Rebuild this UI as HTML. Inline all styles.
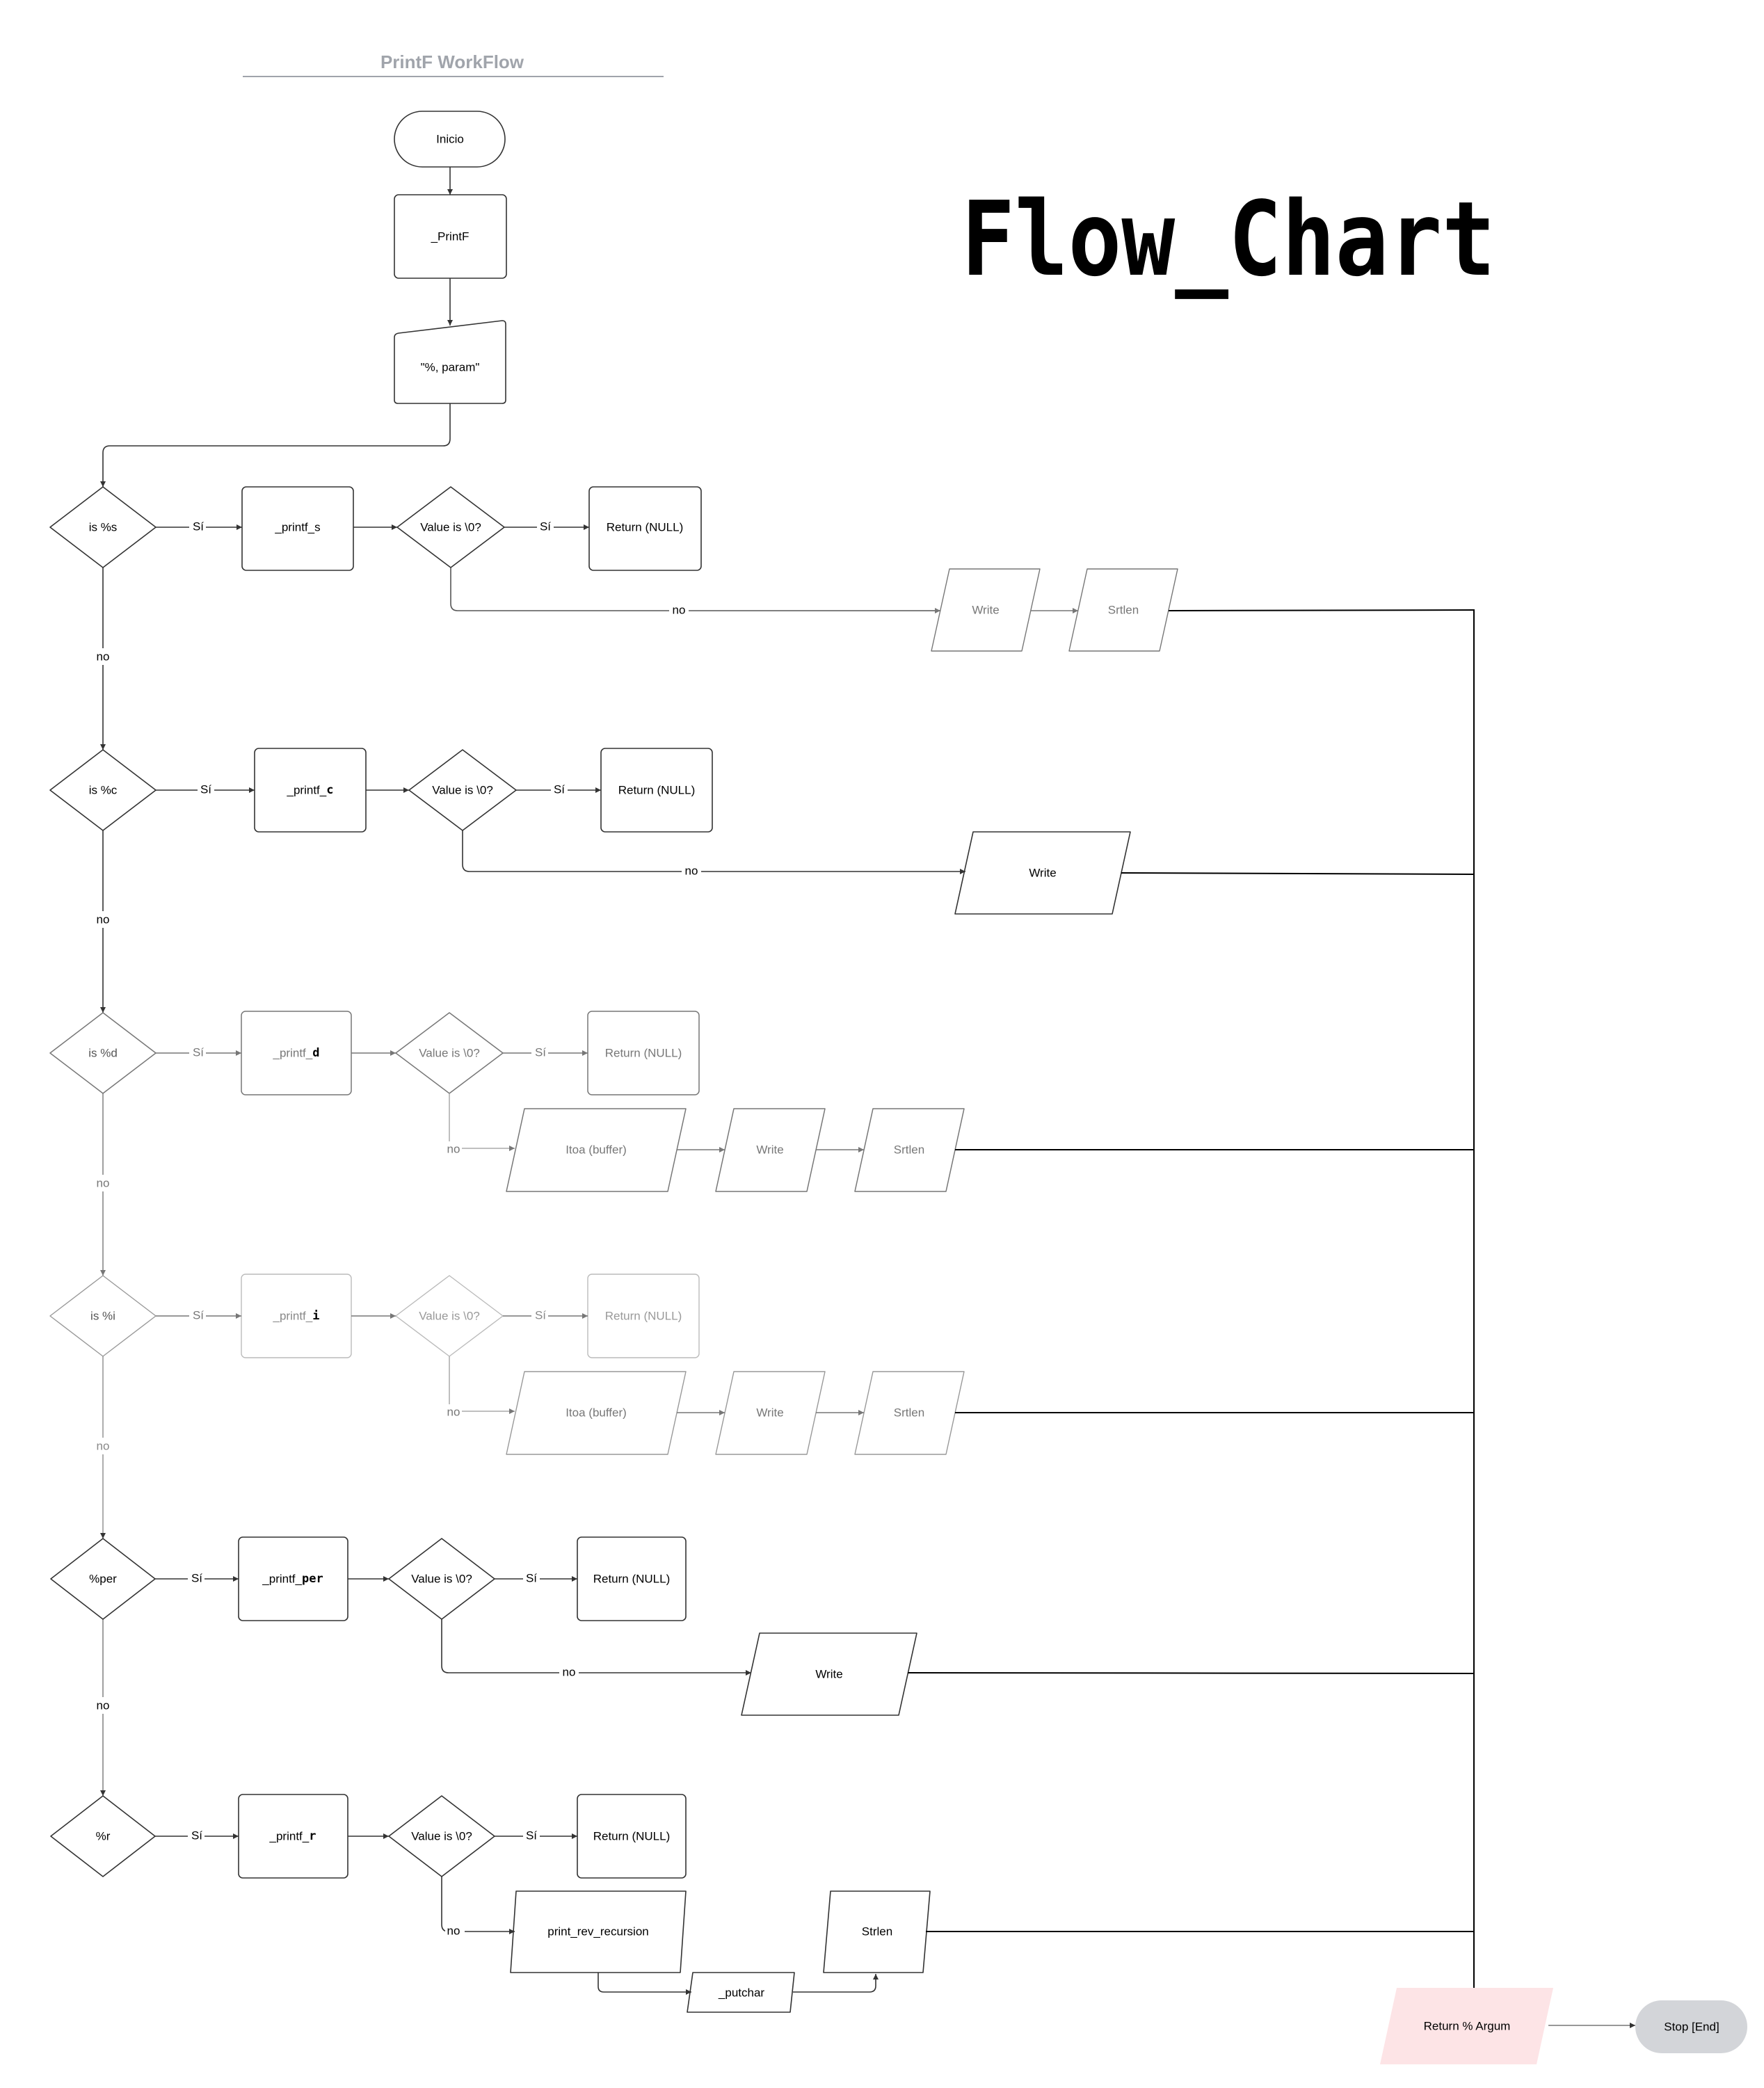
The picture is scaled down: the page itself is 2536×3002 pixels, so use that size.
<!DOCTYPE html>
<html><head><meta charset="utf-8"><style>
html,body{margin:0;padding:0;background:#fff;}
svg{display:block;}
text{font-family:"Liberation Sans",Arial,sans-serif;font-size:17px;text-anchor:middle;dominant-baseline:central;}
</style></head><body>
<svg width="2536" height="3002" viewBox="0 0 2536 3002" xmlns="http://www.w3.org/2000/svg">
<defs>
<marker id="a" viewBox="0 0 10 10" refX="10" refY="5" markerWidth="8" markerHeight="8" orient="auto-start-reverse" markerUnits="userSpaceOnUse"><path d="M0,0 L10,5 L0,10z" fill="#333"/></marker>
<marker id="ag" viewBox="0 0 10 10" refX="10" refY="5" markerWidth="8" markerHeight="8" orient="auto-start-reverse" markerUnits="userSpaceOnUse"><path d="M0,0 L10,5 L0,10z" fill="#777"/></marker>
</defs>
<rect width="2536" height="3002" fill="#fff"/>
<text x="650" y="89" style="font-size:26px;font-weight:bold;fill:#a0a4ab">PrintF WorkFlow</text>
<line x1="349" y1="110" x2="954" y2="110" stroke="#a0a4ab" stroke-width="2"/>
<text x="1382" y="395" textLength="768" lengthAdjust="spacingAndGlyphs" style="font-family:'DejaVu Sans Mono',monospace;font-weight:bold;font-size:148px;text-anchor:start;dominant-baseline:alphabetic;fill:#000">Flow_Chart</text>

<g fill="#fff" stroke="#333" stroke-width="1.6">
<rect x="567" y="160" width="159" height="80" rx="40"/>
<rect x="567" y="280" width="161" height="120" rx="6"/>
<path d="M573,479 L722,461 Q727,461 727,466 L727,575 Q727,580 722,580 L572,580 Q567,580 567,575 L567,485 Q567,480 573,479z"/>
</g>
<text x="647" y="200">Inicio</text>
<text x="647" y="340">_PrintF</text>
<text x="647" y="528">"%, param"</text>
<g fill="none" stroke="#333" stroke-width="1.6">
<line x1="647" y1="240" x2="647" y2="280" marker-end="url(#a)"/>
<line x1="647" y1="400" x2="647" y2="468" marker-end="url(#a)"/>
<path d="M647,580 L647,631 Q647,641 637,641 L158,641 Q148,641 148,651 L148,700" marker-end="url(#a)"/>
</g>

<!-- left chain -->
<g stroke-width="1.6" fill="none">
<line x1="148" y1="816" x2="148" y2="1078" stroke="#333" marker-end="url(#a)"/>
<line x1="148" y1="1194" x2="148" y2="1456" stroke="#333" marker-end="url(#a)"/>
<line x1="148" y1="1572" x2="148" y2="1834" stroke="#888" marker-end="url(#ag)"/>
<line x1="148" y1="1950" x2="148" y2="2212" stroke="#999" marker-end="url(#a)"/>
<line x1="148" y1="2328" x2="148" y2="2582" stroke="#888" marker-end="url(#a)"/>
</g>
<g fill="#fff">
<rect x="130" y="932" width="36" height="24"/><rect x="130" y="1310" width="36" height="24"/><rect x="130" y="1689" width="36" height="24"/><rect x="130" y="2067" width="36" height="24"/><rect x="130" y="2440" width="36" height="24"/>
</g>
<text x="148" y="944">no</text><text x="148" y="1322">no</text>
<text x="148" y="1701" style="fill:#777">no</text><text x="148" y="2079" style="fill:#888">no</text><text x="148" y="2452">no</text>

<!-- ROW 1 -->
<g stroke="#333" stroke-width="1.6" fill="#fff">
<path d="M148,700 L224,758 L148,816 L72,758z" stroke-linejoin="round"/>
<rect x="348" y="700" width="160" height="120" rx="6"/>
<path d="M648,700 L725,758 L648,816 L571,758z" stroke-linejoin="round"/>
<rect x="847" y="700" width="161" height="120" rx="6"/>
</g>
<g stroke="#777" stroke-width="1.4" fill="#fff">
<path d="M1365,818 L1495,818 L1469,936 L1339,936z" stroke-linejoin="round"/>
<path d="M1563,818 L1693,818 L1667,936 L1537,936z" stroke-linejoin="round"/>
</g>
<g fill="none" stroke="#333" stroke-width="1.6">
<line x1="224" y1="758" x2="348" y2="758" marker-end="url(#a)"/>
<line x1="508" y1="758" x2="571" y2="758" marker-end="url(#a)"/>
<line x1="725" y1="758" x2="847" y2="758" marker-end="url(#a)"/>
<path d="M648,816 L648,868 Q648,878 658,878 L1352,878" stroke="#555" marker-end="url(#ag)"/>
<line x1="1482" y1="878" x2="1550" y2="878" stroke="#777" marker-end="url(#ag)"/>
<line x1="1680" y1="878" x2="2119" y2="877" stroke="#000" stroke-width="2"/>
</g>
<rect x="272" y="748" width="24" height="20" fill="#fff"/><rect x="772" y="748" width="24" height="20" fill="#fff"/><rect x="962" y="868" width="28" height="20" fill="#fff"/>
<text x="285" y="757">Sí</text><text x="428" y="758">_printf_s</text><text x="648" y="758">Value is \0?</text><text x="784" y="757">Sí</text><text x="927" y="758">Return (NULL)</text>
<text x="976" y="877">no</text>
<text x="1417" y="877" style="fill:#777">Write</text><text x="1615" y="877" style="fill:#777">Srtlen</text>

<!-- ROW 2 -->
<g stroke="#333" stroke-width="1.6" fill="#fff">
<path d="M148,1078 L224,1136 L148,1194 L72,1136z" stroke-linejoin="round"/>
<rect x="366" y="1076" width="160" height="120" rx="6"/>
<path d="M665,1078 L742,1136 L665,1194 L588,1136z" stroke-linejoin="round"/>
<rect x="864" y="1076" width="160" height="120" rx="6"/>
<path d="M1399,1196 L1625,1196 L1599,1314 L1373,1314z" stroke-linejoin="round"/>
</g>
<g fill="none" stroke="#333" stroke-width="1.6">
<line x1="224" y1="1136" x2="366" y2="1136" marker-end="url(#a)"/>
<line x1="526" y1="1136" x2="588" y2="1136" marker-end="url(#a)"/>
<line x1="742" y1="1136" x2="864" y2="1136" marker-end="url(#a)"/>
<path d="M665,1194 L665,1243 Q665,1253 675,1253 L1388,1253" marker-end="url(#a)"/>
<line x1="1612" y1="1255" x2="2119" y2="1257" stroke="#000" stroke-width="2"/>
</g>
<rect x="284" y="1126" width="24" height="20" fill="#fff"/><rect x="792" y="1126" width="24" height="20" fill="#fff"/><rect x="980" y="1243" width="28" height="20" fill="#fff"/>
<text x="296" y="1135">Sí</text><text x="446" y="1136">_printf_<tspan style="font-family:'DejaVu Sans Mono',monospace;font-weight:bold">c</tspan></text><text x="665" y="1136">Value is \0?</text><text x="804" y="1135">Sí</text><text x="944" y="1136">Return (NULL)</text>
<text x="994" y="1252">no</text><text x="1499" y="1255">Write</text>

<!-- ROW 3 & 4 (gray) -->
<g id="r3">
<g stroke="#777" stroke-width="1.5" fill="#fff">
<path d="M148,1456 L224,1514 L148,1572 L72,1514z" stroke-linejoin="round"/>
<rect x="347" y="1454" width="158" height="120" rx="6"/>
<path d="M646,1456 L723,1514 L646,1572 L569,1514z" stroke-linejoin="round"/>
<rect x="845" y="1454" width="160" height="120" rx="6"/>
<path d="M754,1594 L986,1594 L960,1713 L728,1713z" stroke-linejoin="round"/>
<path d="M1055,1594 L1186,1594 L1160,1713 L1029,1713z" stroke-linejoin="round"/>
<path d="M1255,1594 L1386,1594 L1360,1713 L1229,1713z" stroke-linejoin="round"/>
</g>
<g fill="none" stroke="#777" stroke-width="1.5">
<line x1="224" y1="1514" x2="347" y2="1514" marker-end="url(#ag)"/>
<line x1="505" y1="1514" x2="569" y2="1514" marker-end="url(#ag)"/>
<line x1="723" y1="1514" x2="845" y2="1514" marker-end="url(#ag)"/>
<path d="M646,1572 L646,1651 L740,1651" marker-end="url(#ag)" stroke="#aaa"/>
<line x1="973" y1="1653" x2="1042" y2="1653" marker-end="url(#ag)"/>
<line x1="1173" y1="1653" x2="1242" y2="1653" marker-end="url(#ag)"/>
<line x1="1373" y1="1653" x2="2119" y2="1653" stroke="#000" stroke-width="2"/>
</g>
<rect x="272" y="1504" width="24" height="20" fill="#fff"/><rect x="764" y="1504" width="24" height="20" fill="#fff"/><rect x="636" y="1641" width="28" height="20" fill="#fff"/>
<g style="fill:#777">
<text x="285" y="1513" style="fill:#777">Sí</text><text x="426" y="1514" style="fill:#777">_printf_<tspan style="font-family:'DejaVu Sans Mono',monospace;font-weight:bold;fill:#000">d</tspan></text>
<text x="646" y="1514" style="fill:#777">Value is \0?</text><text x="777" y="1513" style="fill:#777">Sí</text><text x="925" y="1514" style="fill:#777">Return (NULL)</text>
<text x="652" y="1652" style="fill:#777">no</text><text x="857" y="1653" style="fill:#777">Itoa (buffer)</text><text x="1107" y="1653" style="fill:#777">Write</text><text x="1307" y="1653" style="fill:#777">Srtlen</text>
</g>
</g>
<g transform="translate(0,378)">
<g stroke="#999" stroke-width="1.4" fill="#fff">
<path d="M148,1456 L224,1514 L148,1572 L72,1514z" stroke-linejoin="round"/>
<rect x="347" y="1454" width="158" height="120" rx="6" stroke="#bbb"/>
<path d="M646,1456 L723,1514 L646,1572 L569,1514z" stroke-linejoin="round" stroke="#bbb"/>
<rect x="845" y="1454" width="160" height="120" rx="6" stroke="#bbb"/>
<path d="M754,1594 L986,1594 L960,1713 L728,1713z" stroke-linejoin="round"/>
<path d="M1055,1594 L1186,1594 L1160,1713 L1029,1713z" stroke-linejoin="round"/>
<path d="M1255,1594 L1386,1594 L1360,1713 L1229,1713z" stroke-linejoin="round"/>
</g>
<g fill="none" stroke="#777" stroke-width="1.5">
<line x1="224" y1="1514" x2="347" y2="1514" marker-end="url(#ag)"/>
<line x1="505" y1="1514" x2="569" y2="1514" marker-end="url(#ag)"/>
<line x1="723" y1="1514" x2="845" y2="1514" marker-end="url(#ag)"/>
<path d="M646,1572 L646,1651 L740,1651" marker-end="url(#ag)" stroke="#aaa"/>
<line x1="973" y1="1653" x2="1042" y2="1653" marker-end="url(#ag)"/>
<line x1="1173" y1="1653" x2="1242" y2="1653" marker-end="url(#ag)"/>
<line x1="1373" y1="1653" x2="2119" y2="1653" stroke="#000" stroke-width="2"/>
</g>
<rect x="272" y="1504" width="24" height="20" fill="#fff"/><rect x="764" y="1504" width="24" height="20" fill="#fff"/><rect x="636" y="1641" width="28" height="20" fill="#fff"/>
<text x="285" y="1513" style="fill:#777">Sí</text><text x="426" y="1514" style="fill:#888">_printf_<tspan style="font-family:'DejaVu Sans Mono',monospace;font-weight:bold;fill:#000">i</tspan></text>
<text x="148" y="1514" style="fill:#555">is %i</text>
<text x="646" y="1514" style="fill:#999">Value is \0?</text><text x="777" y="1513" style="fill:#888">Sí</text><text x="925" y="1514" style="fill:#999">Return (NULL)</text>
<text x="652" y="1652" style="fill:#777">no</text><text x="857" y="1653" style="fill:#777">Itoa (buffer)</text><text x="1107" y="1653" style="fill:#777">Write</text><text x="1307" y="1653" style="fill:#777">Srtlen</text>
</g>
<text x="148" y="1514" style="fill:#555">is %d</text>
<text x="148" y="758">is %s</text><text x="148" y="1136">is %c</text>

<!-- ROW 5 & 6 common -->
<g stroke="#333" stroke-width="1.6" fill="#fff">
<path d="M148,2212 L223,2270 L148,2328 L73,2270z" stroke-linejoin="round"/>
<rect x="343" y="2210" width="157" height="120" rx="6"/>
<path d="M635,2212 L711,2270 L635,2328 L559,2270z" stroke-linejoin="round"/>
<rect x="830" y="2210" width="156" height="120" rx="6"/>
<path d="M1092,2348 L1318,2348 L1292,2466 L1066,2466z" stroke-linejoin="round"/>
<path d="M148,2582 L223,2640 L148,2698 L73,2640z" stroke-linejoin="round"/>
<rect x="343" y="2580" width="157" height="120" rx="6"/>
<path d="M635,2582 L711,2640 L635,2698 L559,2640z" stroke-linejoin="round"/>
<rect x="830" y="2580" width="156" height="120" rx="6"/>
<path d="M742,2719 L986,2719 L978,2836 L734,2836z" stroke-linejoin="round"/>
<path d="M1194,2719 L1337,2719 L1327,2836 L1184,2836z" stroke-linejoin="round"/>
<path d="M996,2836 L1142,2836 L1136,2893 L988,2893z" stroke-linejoin="round"/>
</g>
<g fill="none" stroke="#333" stroke-width="1.6">
<line x1="223" y1="2270" x2="343" y2="2270" marker-end="url(#a)"/>
<line x1="500" y1="2270" x2="559" y2="2270" marker-end="url(#a)"/>
<line x1="711" y1="2270" x2="830" y2="2270" marker-end="url(#a)"/>
<path d="M635,2328 L635,2395 Q635,2405 645,2405 L1080,2405" marker-end="url(#a)"/>
<line x1="1305" y1="2405" x2="2119" y2="2406" stroke="#000" stroke-width="2"/>
<line x1="223" y1="2640" x2="343" y2="2640" marker-end="url(#a)"/>
<line x1="500" y1="2640" x2="559" y2="2640" marker-end="url(#a)"/>
<line x1="711" y1="2640" x2="830" y2="2640" marker-end="url(#a)"/>
<path d="M635,2698 L635,2767 Q635,2777 645,2777 L740,2777" marker-end="url(#a)"/>
<path d="M860,2836 L860,2856 Q860,2864 868,2864 L994,2864" marker-end="url(#a)"/>
<path d="M1140,2864 L1250,2864 Q1259,2864 1259,2855 L1259,2838" marker-end="url(#a)"/>
<line x1="1331" y1="2777" x2="2119" y2="2777" stroke="#000" stroke-width="2"/>
<line x1="2119" y1="876" x2="2119" y2="2858" stroke="#000" stroke-width="2"/>
<line x1="2226" y1="2912" x2="2351" y2="2912" stroke="#777" marker-end="url(#a)"/>
</g>
<path d="M2008,2858 L2233,2858 L2209,2968 L1984,2968z" fill="#fde4e6"/>
<rect x="2351" y="2876" width="161" height="76" rx="38" fill="#d3d5d9"/>
<rect x="270" y="2260" width="24" height="20" fill="#fff"/><rect x="752" y="2260" width="24" height="20" fill="#fff"/><rect x="804" y="2395" width="28" height="20" fill="#fff"/>
<rect x="270" y="2630" width="24" height="20" fill="#fff"/><rect x="752" y="2630" width="24" height="20" fill="#fff"/><rect x="640" y="2767" width="28" height="20" fill="#fff"/>
<text x="148" y="2270">%per</text><text x="283" y="2269">Sí</text><text x="421" y="2270">_printf_<tspan style="font-family:'DejaVu Sans Mono',monospace;font-weight:bold">per</tspan></text>
<text x="635" y="2270">Value is \0?</text><text x="764" y="2269">Sí</text><text x="908" y="2270">Return (NULL)</text>
<text x="818" y="2404">no</text><text x="1192" y="2407">Write</text>
<text x="148" y="2640">%r</text><text x="283" y="2639">Sí</text><text x="421" y="2640">_printf_<tspan style="font-family:'DejaVu Sans Mono',monospace;font-weight:bold">r</tspan></text>
<text x="635" y="2640">Value is \0?</text><text x="764" y="2639">Sí</text><text x="908" y="2640">Return (NULL)</text>
<text x="652" y="2776">no</text><text x="860" y="2777">print_rev_recursion</text><text x="1261" y="2777">Strlen</text><text x="1066" y="2865">_putchar</text>
<text x="2109" y="2913">Return % Argum</text><text x="2432" y="2914">Stop [End]</text>
</svg>
</body></html>
